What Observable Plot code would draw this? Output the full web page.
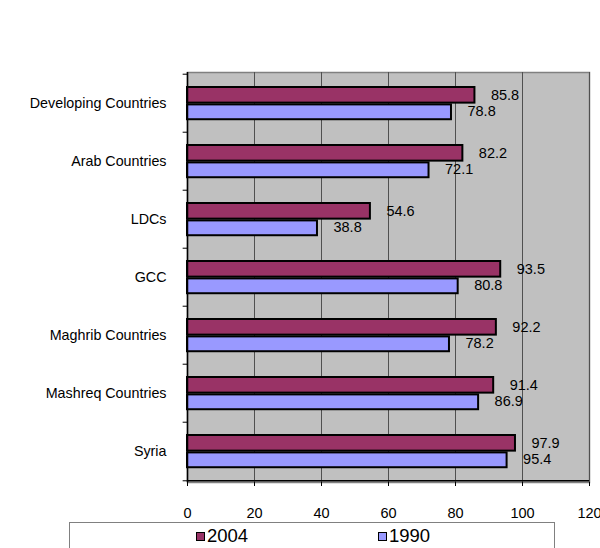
<!DOCTYPE html>
<html>
<head>
<meta charset="utf-8">
<script src="https://cdn.jsdelivr.net/npm/d3@7"></script>
<script src="https://cdn.jsdelivr.net/npm/@observablehq/plot@0.6"></script>
<style>
  html, body { margin: 0; padding: 0; background: #fff; overflow: hidden; }
  body { font-family: "Liberation Sans", Arial, sans-serif; }
  #chart svg { display: block; }
  .legend {
    position: relative;
    margin-left: 69px;
    width: 486px;
    height: 40px;
    border: 1px solid #808080;
    box-sizing: border-box;
    font-size: 18.5px;
    color: #000;
  }
  .legend .item { position: absolute; top: 2px; display: flex; align-items: center; }
  .legend .swatch { width: 7px; height: 7px; border: 1.5px solid #000; margin-right: 2px; }
</style>
</head>
<body>
<div id="chart"></div>
<script>
// Enrolment values by region group, 1990 and 2004
const categories = ["Developing Countries", "Arab Countries", "LDCs", "GCC", "Maghrib Countries", "Mashreq Countries", "Syria"];
const values2004 = [85.8, 82.2, 54.6, 93.5, 92.2, 91.4, 97.9];
const values1990 = [78.8, 72.1, 38.8, 80.8, 78.2, 86.9, 95.4];
const years = ["2004", "1990"];
const yearColors = ["#993366", "#9999FF"];
const xTicks = [0, 20, 40, 60, 80, 100, 120];

const rows2004 = categories.map((c, i) => ({category: c, year: "2004", value: values2004[i]}));
const rows1990 = categories.map((c, i) => ({category: c, year: "1990", value: values1990[i]}));

const width = 600, height = 522;
const marginTop = 72, marginBottom = 40, marginLeft = 187, marginRight = 11;
const band = (height - marginTop - marginBottom) / categories.length;

const barStyle = {stroke: "#000", strokeWidth: 2};
const labelStyle = {textAnchor: "start", fontSize: 14.5, fill: "#000", dx: 16};

const chart = Plot.plot({
  width, height, marginTop, marginBottom, marginLeft, marginRight,
  style: {fontFamily: "Liberation Sans, Arial, sans-serif", fontSize: "14.5px", color: "#000", background: "#fff"},
  x: {domain: [0, 120]},
  y: {domain: categories, padding: 0},
  marks: [
    Plot.frame({fill: "#C0C0C0", stroke: "#808080", strokeWidth: 1.5}),
    Plot.gridX(xTicks, {stroke: "#505050", strokeOpacity: 1, strokeWidth: 1}),
    // 2004 bar sits in the upper part of each band, 1990 just below it
    Plot.barX(rows2004, {x: "value", y: "category", fill: yearColors[0], ...barStyle, insetTop: 13, insetBottom: band - 29.2}),
    Plot.barX(rows1990, {x: "value", y: "category", fill: yearColors[1], ...barStyle, insetTop: 30.4, insetBottom: band - 45.8}),
    Plot.text(rows2004, {x: "value", y: "category", text: (d) => d.value.toFixed(1), ...labelStyle, dy: -8}),
    Plot.text(rows1990, {x: "value", y: "category", text: (d) => d.value.toFixed(1), ...labelStyle, dy: 8}),
    // axis lines
    Plot.ruleX([0], {stroke: "#000", strokeWidth: 1.5}),
    Plot.ruleY([categories[categories.length - 1]], {stroke: "#000", strokeWidth: 1.5, dy: band / 2}),
    // category boundary ticks on the left axis
    Plot.ruleY(categories, {x1: -1.3, x2: 0, stroke: "#000", strokeWidth: 1, dy: -band / 2, clip: false}),
    Plot.ruleY([categories[categories.length - 1]], {x1: -1.3, x2: 0, stroke: "#000", strokeWidth: 1, dy: band / 2}),
    Plot.axisY({tickSize: 0, tickPadding: 21, fontSize: 14.3, label: null}),
    Plot.axisX(xTicks, {tickSize: 4, tickPadding: 21, fontSize: 14.5, label: null, stroke: "#000"})
  ]
});
document.getElementById("chart").appendChild(chart);

// Legend box below the chart
const legend = document.createElement("div");
legend.className = "legend";
const itemLeft = [126, 308];
years.forEach((y, i) => {
  const item = document.createElement("div");
  item.className = "item";
  item.style.left = itemLeft[i] + "px";
  const sw = document.createElement("span");
  sw.className = "swatch";
  sw.style.background = yearColors[i];
  const label = document.createElement("span");
  label.textContent = y;
  item.appendChild(sw);
  item.appendChild(label);
  legend.appendChild(item);
});
document.body.appendChild(legend);
</script>
</body>
</html>
